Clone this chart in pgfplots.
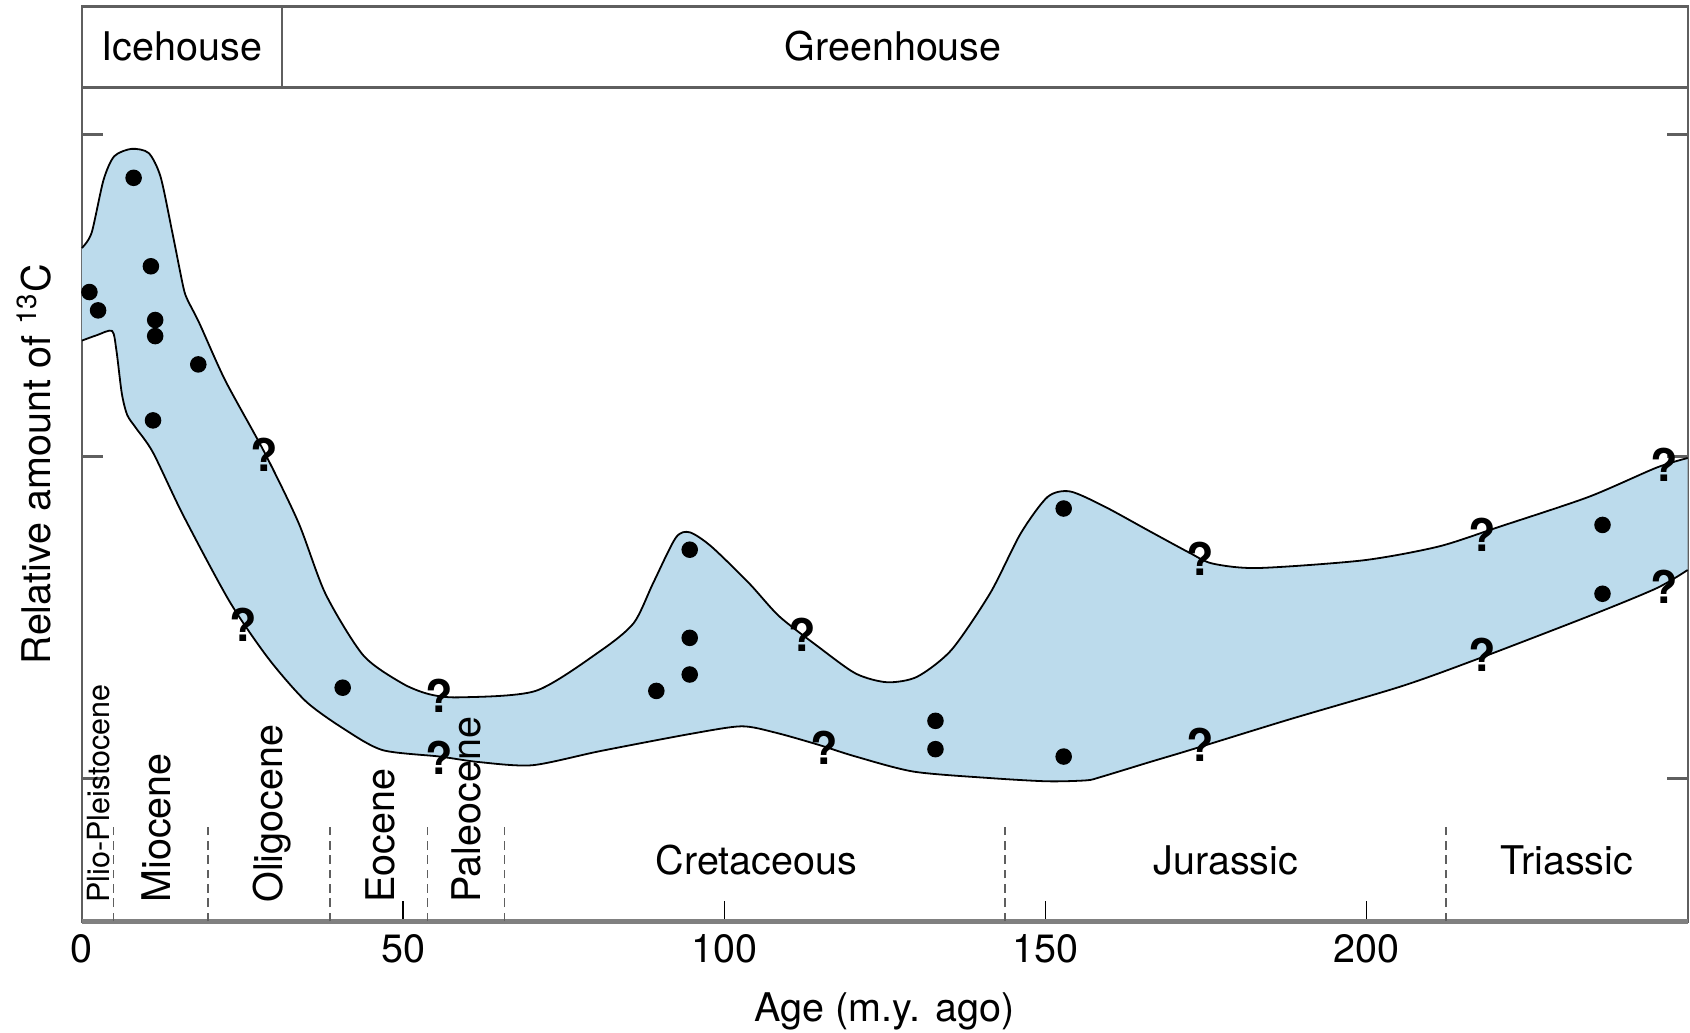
\documentclass[border=0pt]{standalone}
\usepackage{pgfplots}
\usepackage{pgfplotstable}
\pgfplotsset{compat=1.18}
\usepgfplotslibrary{fillbetween}
\usepackage{fontspec}
\setmainfont{TeX Gyre Heros}
\definecolor{bandblue}{RGB}{188,219,236}
\definecolor{framegray}{RGB}{95,95,95}
\newcommand{\lbl}{\fontsize{11}{13}\selectfont}
\pgfplotstableread{
x y
28.36 2.005
25.17 1.476
55.70 1.255
55.70 1.064
112.08 1.446
115.60 1.094
174.16 1.683
174.16 1.104
217.95 1.757
217.95 1.382
246.31 1.975
246.31 1.596
}\qtable
\begin{document}
\begin{tikzpicture}
\begin{axis}[
  set layers,
  scale only axis,
  width=447pt, height=254.7pt,
  xmin=0, xmax=250, ymin=0.5544, ymax=3.3987,
  axis line style={framegray, line width=0.6pt},
  xtick={0,50,100,150,200},
  xtick pos=left,
  ytick={1,2,3},
  yticklabels={},
  tick align=inside,
  major tick length=5.8pt,
  x tick style={black, line width=0.4pt},
  y tick style={framegray, line width=0.8pt},
  ytick pos=both,
  /pgf/number format/assume math mode=true,
  tick label style={font=\lbl},
  xlabel={Age (m.y. ago)},
  xlabel style={font=\lbl, at={(axis description cs:0.5,-0.0978)}, anchor=center, inner sep=0pt},
  ylabel={Relative amount of \textsuperscript{13}C},
  ylabel style={font=\lbl, at={(axis description cs:-0.0188,0.5)}, anchor=south, inner sep=0pt},
  clip=false,
]
% band boundaries
\addplot[name path=upper, black, line width=0.5pt, smooth, tension=0.45] coordinates {
(0,2.648) (1.51,2.695) (3.36,2.859) (5.03,2.933) (7.72,2.956) (10.40,2.943) (12.25,2.869) (14.09,2.695) (15.77,2.528) (16.44,2.487) (18.29,2.414) (22.32,2.236) (28.36,2.015) (33.72,1.794) (37.92,1.573) (43.79,1.382) (49.83,1.295) (54.03,1.261) (58.72,1.251) (70.64,1.271) (80.70,1.395) (85.91,1.482) (88.93,1.606) (92.45,1.747) (94.63,1.764) (97.99,1.720) (103.86,1.606) (108.56,1.503) (114.60,1.409) (120.47,1.325) (125.34,1.298) (130.03,1.315) (135.40,1.399) (141.44,1.576) (146.14,1.760) (150.34,1.874) (153.86,1.891) (159.23,1.844) (166.28,1.767) (172.48,1.700) (176.01,1.667) (183.05,1.653) (199.50,1.677) (211.24,1.720) (220.64,1.781) (234.56,1.874) (245.13,1.965) (250,1.995)
};
\addplot[name path=lower, black, line width=0.5pt, smooth, tension=0.45] coordinates {
(0,2.360) (2.35,2.377) (4.70,2.390) (5.37,2.330) (6.21,2.196) (7.05,2.129) (8.39,2.089) (11.07,2.012) (15.77,1.817) (22.99,1.549) (29.03,1.372) (34.90,1.238) (40.94,1.151) (46.81,1.087) (55.70,1.067) (61.74,1.050) (70.13,1.040) (80.70,1.084) (94.63,1.137) (102.68,1.161) (108.05,1.141) (114.60,1.104) (120.47,1.067) (129.53,1.020) (141.44,1.000) (150.34,0.990) (156.38,0.993) (158.56,1.003) (166.28,1.050) (172.48,1.087) (187.75,1.181) (205.37,1.285) (217.11,1.369) (234.56,1.503) (245.13,1.590) (250,1.647)
};
\addplot[fill=bandblue, draw=none] fill between[of=upper and lower];
% data points
\addplot[only marks, mark=*, mark size=2.1pt, black] coordinates {
(1.17,2.511) (2.52,2.454) (8.05,2.866) (10.74,2.591) (11.41,2.424) (11.41,2.374) (18.12,2.286) (11.07,2.112) (40.60,1.281) (89.43,1.271) (94.63,1.710) (94.63,1.436) (94.63,1.322) (132.89,1.178) (132.89,1.090) (152.85,1.838) (152.85,1.067) (236.74,1.787) (236.74,1.573)
};
% uncertain points
\addplot[only marks, mark=text, text mark={?}, text mark as node=true,
  text mark style={black, font=\bfseries\fontsize{12.5}{13}\selectfont, inner sep=0pt}] table {\qtable};
% header band
\draw[framegray, line width=0.6pt] (axis cs:0,3.147) -- (axis cs:250,3.147);
\draw[framegray, line width=0.6pt] (axis cs:31.2,3.147) -- (axis cs:31.2,3.3987);
\node[font=\lbl] at (axis cs:15.6,3.275) {Icehouse};
\node[font=\lbl] at (axis cs:126.3,3.275) {Greenhouse};
% thick bottom axis line
\draw[gray, line width=1.3pt] (rel axis cs:0,0) -- (rel axis cs:1,0);
% period boundaries
\foreach \xx in {4.95,19.6,38.6,53.8,65.8,143.7,212.35} {
  \edef\tmp{\noexpand\draw[framegray, line width=0.4pt, dash pattern=on 2.4pt off 1.6pt] (axis cs:\xx,0.5544) -- (axis cs:\xx,0.85);}
  \tmp
}
% epoch labels
\node[font=\fontsize{8.5}{10}\selectfont, rotate=90, anchor=base west, inner sep=0pt] at (axis cs:4.23,0.611) {Plio-Pleistocene};
\node[font=\lbl, rotate=90, anchor=base west, inner sep=0pt] at (axis cs:13.76,0.611) {Miocene};
\node[font=\lbl, rotate=90, anchor=base west, inner sep=0pt] at (axis cs:31.3,0.611) {Oligocene};
\node[font=\lbl, rotate=90, anchor=base west, inner sep=0pt] at (axis cs:48.6,0.611) {Eocene};
\node[font=\lbl, rotate=90, anchor=base west, inner sep=0pt] at (axis cs:62.0,0.611) {Paleocene};
\node[font=\lbl, anchor=base] at (axis cs:105.0,0.699) {Cretaceous};
\node[font=\lbl, anchor=base] at (axis cs:178.1,0.699) {Jurassic};
\node[font=\lbl, anchor=base] at (axis cs:231.2,0.699) {Triassic};
\end{axis}
\path ([xshift=-22.8pt,yshift=-30.9pt]current axis.south west) rectangle ([xshift=0.6pt,yshift=1.8pt]current axis.north east);
\end{tikzpicture}
\end{document}
